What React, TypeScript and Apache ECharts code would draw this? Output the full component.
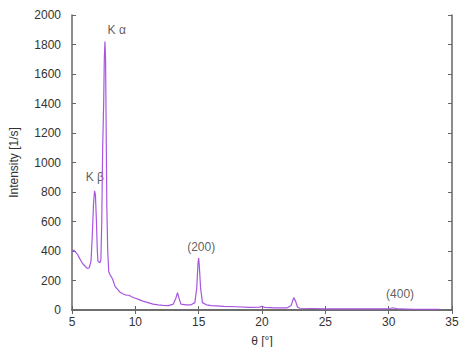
import React, { useEffect, useRef } from "react";
import * as echarts from "echarts";

const theta = [
  5.0, 5.15, 5.3, 5.45, 5.6, 5.8, 6.0, 6.2, 6.35, 6.5, 6.6, 6.7, 6.78, 6.85, 6.92, 7.0, 7.05, 7.12, 7.2, 7.28,
  7.35, 7.42, 7.5, 7.55, 7.6, 7.65, 7.7, 7.75, 7.82, 7.9, 8.0, 8.2, 8.4, 8.6, 8.8, 9.0, 9.3, 9.5, 9.7, 10.0,
  10.3, 10.6, 11.0, 11.4, 11.8, 12.2, 12.6, 13.0, 13.2, 13.33, 13.45, 13.6, 14.0, 14.4, 14.7, 14.85, 14.95, 15.0,
  15.05, 15.15, 15.3, 15.6, 16.0, 17.0, 18.0, 19.0, 19.8, 20.0, 20.2, 21.0, 22.0, 22.3, 22.5, 22.65, 22.8, 23.0,
  24.0, 25.0, 26.0, 27.0, 28.0, 29.0, 30.0, 30.3, 30.5, 30.8, 32.0, 33.0, 34.0,
];
const intensity = [
  400, 405, 390, 375, 350, 320, 300, 282, 285, 330, 500, 720, 808, 780, 620, 400, 330, 325, 320, 340,
  600, 1100, 1400, 1700, 1820, 1700, 1200, 700, 400, 260, 240, 210, 160, 140, 120, 110, 100, 100, 90, 80,
  70, 60, 50, 40, 35, 32, 30, 40, 80, 117, 80, 40, 35, 35, 50, 150, 320, 352,
  300, 150, 50, 35, 30, 25, 22, 18, 20, 25, 18, 15, 15, 30, 84, 60, 20, 12,
  10, 8, 8, 7, 7, 7, 7, 15, 12, 7, 5, 5, 5,
];

const peakLabels = ["K α", "K β", "(200)", "(400)"];
const peakLabelTheta = [8.53, 6.8, 15.2, 30.9];
const peakLabelY = [1898, 902, 427, 108];

export default function App() {
  const ref = useRef<HTMLDivElement>(null);
  useEffect(() => {
    if (!ref.current) return;
    const chart = echarts.init(ref.current, undefined, { renderer: "svg" });
    const font = "Liberation Sans";
    const axisLine = { show: true, lineStyle: { color: "#666", width: 1.5 } };
    const tick = { show: true, inside: true, length: 4, lineStyle: { color: "#666" } };
    chart.setOption({
      animation: false,
      grid: { left: 70, right: 22, top: 15, bottom: 45 },
      xAxis: [
        {
          type: "value",
          min: 5,
          max: 35,
          interval: 5,
          name: "θ [°]",
          nameLocation: "middle",
          nameGap: 25,
          nameTextStyle: { color: "#333", fontSize: 12, fontFamily: font },
          axisLine,
          axisTick: tick,
          axisLabel: { color: "#333", fontSize: 12, fontFamily: font, margin: 6, formatter: (v: number) => String(v) },
          splitLine: { show: false },
        },
        {
          type: "value",
          position: "top",
          min: 5,
          max: 35,
          interval: 5,
          axisLine,
          axisTick: tick,
          axisLabel: { show: false },
          splitLine: { show: false },
        },
      ],
      yAxis: [
        {
          type: "value",
          min: 0,
          max: 2000,
          interval: 200,
          name: "Intensity [1/s]",
          nameLocation: "middle",
          nameGap: 52,
          nameTextStyle: { color: "#333", fontSize: 12, fontFamily: font },
          axisLine,
          axisTick: tick,
          axisLabel: { color: "#333", fontSize: 12, fontFamily: font, margin: 11, formatter: (v: number) => String(v) },
          splitLine: { show: false },
        },
        {
          type: "value",
          position: "right",
          min: 0,
          max: 2000,
          interval: 200,
          axisLine,
          axisTick: tick,
          axisLabel: { show: false },
          splitLine: { show: false },
        },
      ],
      series: [
        {
          type: "line",
          data: theta.map((t, i) => [t, intensity[i]]),
          showSymbol: false,
          lineStyle: { color: "#a856e0", width: 1.2 },
          itemStyle: { color: "#a856e0" },
        },
        {
          type: "scatter",
          data: peakLabelTheta.map((t, i) => [t, peakLabelY[i], peakLabels[i]]),
          symbolSize: 0,
          silent: true,
          label: {
            show: true,
            position: "inside",
            formatter: (p: any) => p.data[2],
            color: "#333",
            fontSize: 12,
            fontFamily: font,
          },
        },
      ],
    });
    return () => chart.dispose();
  }, []);
  return <div ref={ref} style={{ width: 474, height: 355, margin: -8 }} />;
}
